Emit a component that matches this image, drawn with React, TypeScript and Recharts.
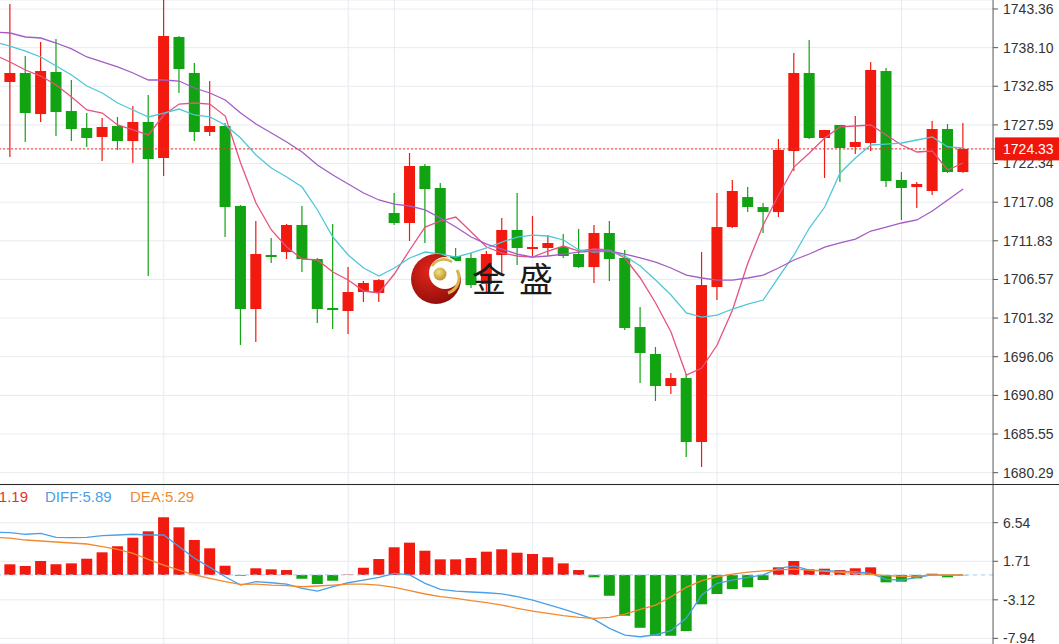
import React from 'react';
import { ComposedChart, Bar, Line, XAxis, YAxis, CartesianGrid, ReferenceLine, Cell } from 'recharts';

// candle index (first one is only half visible at the left edge)
const idx = [-1, 0, 1, 2, 3, 4, 5, 6, 7, 8, 9, 10, 11, 12, 13, 14, 15, 16, 17, 18, 19, 20, 21, 22, 23, 24, 25, 26, 27, 28, 29, 30,
  31, 32, 33, 34, 35, 36, 37, 38, 39, 40, 41, 42, 43, 44, 45, 46, 47, 48, 49, 50, 51, 52, 53, 54, 55, 56, 57, 58, 59, 60, 61, 62];

const open = [1736.01, 1733.43, 1734.65, 1729.07, 1734.79, 1729.48, 1727.17, 1725.95, 1727.44, 1725.40, 1727.99, 1723.09, 1739.55,
  1734.65, 1726.63, 1727.44, 1716.56, 1702.55, 1709.90, 1710.30, 1713.98, 1709.35, 1702.69, 1702.28, 1704.86, 1704.73, 1715.61,
  1714.25, 1722.00, 1719.01, 1709.76, 1709.49, 1705.95, 1709.90, 1713.30, 1710.71, 1710.85, 1710.98, 1710.03, 1708.26, 1712.89,
  1709.49, 1700.10, 1696.43, 1692.08, 1693.16, 1684.46, 1705.54, 1713.70, 1717.78, 1716.42, 1715.74, 1724.04, 1734.65, 1725.81,
  1727.58, 1724.59, 1725.13, 1734.92, 1720.10, 1719.14, 1718.60, 1727.03, 1721.18];

const high = [1736.69, 1744.04, 1736.96, 1738.87, 1739.28, 1733.70, 1729.21, 1728.53, 1728.67, 1730.16, 1731.66, 1744.85, 1739.68,
  1736.01, 1733.56, 1727.85, 1716.70, 1714.52, 1712.21, 1714.11, 1716.56, 1709.49, 1714.11, 1708.26, 1706.36, 1706.63, 1718.33,
  1723.77, 1722.27, 1719.69, 1710.85, 1710.17, 1710.44, 1714.93, 1718.33, 1715.20, 1712.61, 1712.75, 1713.43, 1713.98, 1714.52,
  1710.58, 1702.82, 1697.38, 1693.85, 1693.71, 1710.30, 1718.33, 1720.10, 1719.14, 1716.97, 1725.67, 1737.37, 1739.14, 1726.90,
  1727.58, 1728.80, 1736.15, 1735.33, 1721.18, 1719.82, 1728.12, 1727.71, 1727.85];

const low = [1732.88, 1723.22, 1725.27, 1727.99, 1726.08, 1725.40, 1724.59, 1722.68, 1724.18, 1722.41, 1707.04, 1720.64, 1731.93,
  1725.40, 1726.08, 1712.34, 1697.65, 1698.06, 1708.81, 1709.35, 1707.58, 1700.65, 1699.83, 1699.15, 1703.50, 1703.50, 1713.98,
  1711.80, 1711.53, 1709.35, 1707.17, 1705.41, 1704.86, 1707.45, 1708.53, 1709.76, 1709.76, 1709.49, 1708.13, 1706.09, 1706.36,
  1699.69, 1692.48, 1690.04, 1690.99, 1682.42, 1681.06, 1703.77, 1713.57, 1715.74, 1712.89, 1715.06, 1721.32, 1725.67, 1720.37,
  1719.82, 1723.63, 1724.04, 1719.14, 1714.66, 1716.29, 1718.06, 1721.05, 1721.10];

const close = [1733.70, 1734.65, 1729.21, 1734.92, 1729.35, 1727.03, 1725.81, 1727.31, 1725.40, 1727.99, 1722.95, 1739.68, 1735.19,
  1726.63, 1727.44, 1716.42, 1702.55, 1710.03, 1709.62, 1713.98, 1709.35, 1702.55, 1702.41, 1704.86, 1706.09, 1706.49, 1714.25,
  1722.00, 1718.87, 1709.90, 1709.08, 1705.81, 1710.03, 1713.30, 1710.85, 1710.98, 1711.53, 1709.76, 1708.26, 1712.89, 1709.35,
  1699.97, 1696.57, 1692.08, 1693.16, 1684.46, 1705.81, 1713.70, 1718.60, 1716.42, 1715.74, 1724.18, 1734.65, 1725.81, 1726.90,
  1724.45, 1725.27, 1735.06, 1719.96, 1719.01, 1719.55, 1727.03, 1721.18, 1724.33];

const ma5 = [1737.10, 1736.15, 1735.06, 1734.24, 1733.02, 1731.39, 1729.62, 1729.21, 1727.58, 1726.90, 1726.22, 1728.94, 1730.43,
  1730.57, 1730.43, 1728.80, 1722.41, 1716.97, 1713.30, 1710.98, 1709.35, 1709.22, 1707.58, 1706.49, 1705.00, 1704.73, 1707.31,
  1710.58, 1713.70, 1714.52, 1715.06, 1713.02, 1710.98, 1710.17, 1709.76, 1709.62, 1710.44, 1711.12, 1710.44, 1710.71, 1710.58,
  1709.49, 1706.77, 1703.37, 1699.42, 1693.57, 1694.52, 1697.65, 1702.41, 1708.81, 1713.98, 1718.06, 1721.86, 1723.77, 1725.81,
  1727.31, 1727.44, 1727.58, 1726.22, 1724.86, 1723.91, 1724.04, 1721.46, 1722.41];

const ma10 = [1738.87, 1738.32, 1737.64, 1736.83, 1735.60, 1734.38, 1732.88, 1731.93, 1730.57, 1729.62, 1728.67, 1729.21, 1729.75,
  1728.94, 1728.67, 1727.58, 1725.81, 1723.50, 1721.73, 1720.50, 1719.14, 1716.02, 1712.34, 1709.90, 1708.13, 1707.04, 1708.13,
  1709.49, 1710.30, 1710.03, 1709.62, 1710.17, 1710.85, 1711.66, 1712.34, 1712.61, 1712.48, 1711.94, 1710.58, 1710.30, 1710.44,
  1709.76, 1708.40, 1706.49, 1704.45, 1702.01, 1701.46, 1701.73, 1702.55, 1703.23, 1703.77, 1706.90, 1709.90, 1713.57, 1716.42,
  1721.05, 1723.09, 1724.86, 1724.99, 1725.13, 1725.54, 1725.95, 1724.59, 1724.45];

const ma20 = [1740.23, 1740.09, 1739.55, 1739.41, 1738.73, 1737.92, 1736.83, 1736.15, 1735.47, 1734.65, 1733.70, 1733.70, 1733.56,
  1732.61, 1731.93, 1730.98, 1729.21, 1727.71, 1726.49, 1725.27, 1723.91, 1722.14, 1720.78, 1719.55, 1718.33, 1717.38, 1716.83,
  1716.56, 1716.02, 1714.93, 1713.70, 1712.34, 1711.39, 1710.71, 1710.03, 1709.62, 1709.76, 1710.03, 1710.30, 1710.44, 1710.44,
  1710.03, 1709.49, 1708.94, 1708.13, 1707.17, 1706.77, 1706.49, 1706.49, 1706.77, 1707.17, 1708.13, 1709.22, 1710.03, 1710.98,
  1711.53, 1712.07, 1713.16, 1713.70, 1714.25, 1714.66, 1715.88, 1717.38, 1718.87];

const macd = [1.24, 1.33, 1.12, 1.74, 1.33, 1.45, 2.03, 2.83, 3.58, 4.66, 5.46, 7.22, 5.96, 4.37, 3.33, 1.15, -0.10, 0.83, 0.70,
  0.61, -0.48, -1.14, -0.73, 0.05, 0.90, 1.99, 3.46, 4.04, 3.03, 1.95, 1.95, 2.12, 2.91, 3.21, 2.78, 2.62, 2.21, 1.45, 0.61,
  -0.30, -2.61, -5.11, -6.62, -7.62, -7.62, -7.03, -3.68, -2.39, -1.77, -1.55, -0.64, 0.95, 1.74, 0.70, 0.78, 0.61, 0.83, 0.95,
  -0.93, -0.85, -0.43, 0.15, -0.30, -0.05];

const diff = [5.34, 5.30, 5.09, 5.21, 4.71, 4.66, 4.71, 4.91, 5.00, 5.09, 5.00, 5.00, 3.53, 2.08, 0.95, -0.23, -1.27, -0.85, -0.98,
  -1.14, -1.68, -2.02, -1.48, -0.98, -0.64, -0.30, 0.20, 0.00, -1.05, -1.80, -2.02, -2.14, -2.23, -2.37, -2.73, -3.15, -3.73,
  -4.27, -4.90, -5.57, -6.69, -7.53, -7.74, -7.49, -6.99, -5.40, -2.52, -1.05, -0.64, -0.30, 0.00, 0.83, 1.12, 0.61, 0.53, 0.45,
  0.40, 0.20, -0.55, -0.64, -0.30, 0.00, -0.05, 0.00];

const dea = [4.71, 4.62, 4.37, 4.25, 4.12, 4.00, 3.87, 3.53, 3.21, 2.71, 1.95, 1.24, 0.61, 0.00, -0.43, -0.85, -1.18, -1.14, -1.27,
  -1.35, -1.48, -1.39, -1.27, -1.14, -1.14, -1.27, -1.55, -1.98, -2.39, -2.73, -2.93, -3.23, -3.48, -3.77, -4.19, -4.52, -4.82,
  -5.11, -5.32, -5.44, -5.32, -4.90, -4.31, -3.77, -2.73, -1.55, -0.72, -0.23, 0.11, 0.36, 0.50, 0.62, 0.72, 0.61, 0.45, 0.33,
  0.20, 0.08, -0.10, -0.18, -0.14, 0.00, 0.00, 0.00];

const priceTicks = [1680.29, 1685.55, 1690.80, 1696.06, 1701.32, 1706.57, 1711.83, 1717.08, 1722.34, 1727.59, 1732.85, 1738.10, 1743.36];
const macdTicks = [-7.94, -3.12, 1.71, 6.54];
const sessionBreaks = [10, 22, 25, 34, 46, 58];
const lastPrice = 1724.33;

const RED = '#f2190f';
const GREEN = '#11a311';
const GRID = '#e7ebf0';
const AXIS_FONT = '"Liberation Sans", Arial, sans-serif';

// the plot starts a little left of the page so the first candle is cut in half
const SHIFT = 13.05;
const CHART_W = 1059 + SHIFT;
const AXIS_W = 66;
const PAD_R = 22.3;

const candles = idx.map((i, k) => ({
  idx: i, open: open[k], high: high[k], low: low[k], close: close[k], ma5: ma5[k], ma10: ma10[k], ma20: ma20[k],
}));
const macdRows = idx.map((i, k) => ({ idx: i, macd: macd[k], diff: diff[k], dea: dea[k] }));

const Candle = (props: any) => {
  const { x, y, width, height, payload } = props;
  if (x == null || y == null) return null;
  const top = Math.min(y, y + height);
  const h = Math.abs(height);
  const { open: o, close: c, high: hi, low: lo } = payload;
  const color = c >= o ? RED : GREEN;
  const k = hi - lo !== 0 ? h / (hi - lo) : 0;
  const yOf = (v: number) => top + (hi - v) * k;
  const bTop = yOf(Math.max(o, c));
  const bBot = yOf(Math.min(o, c));
  const cx = x + width / 2;
  return (
    <g>
      <line x1={cx} x2={cx} y1={top} y2={top + h} stroke={color} strokeWidth={1.2} />
      <rect x={x} y={bTop} width={width} height={Math.max(bBot - bTop, 1.5)} fill={color} />
    </g>
  );
};

// price axis labels; the last price gets a red tag drawn over the normal labels
const PriceTick = (props: any) => {
  const { x, y, payload } = props;
  const v = Number(payload.value);
  if (v === lastPrice) {
    return (
      <g>
        <rect x={x - 8} y={y - 11.5} width={72} height={23} fill="#f0160c" />
        <text x={x} y={y} dy="0.355em" textAnchor="start" fill="#fff" fontSize={14} fontFamily={AXIS_FONT}>
          {v.toFixed(2)}
        </text>
      </g>
    );
  }
  return (
    <text x={x} y={y} dy="0.355em" textAnchor="start" fill="#333" fontSize={14} fontFamily={AXIS_FONT}>
      {v.toFixed(2)}
    </text>
  );
};

const axisTick = { fill: '#333', fontSize: 14, fontFamily: AXIS_FONT };

export default function App() {
  return (
    <div style={{ position: 'absolute', left: 0, top: 0, width: 1059, height: 644, overflow: 'hidden', background: '#fff' }}>
      <div style={{ position: 'absolute', left: -SHIFT, top: 0 }}>
        <ComposedChart width={CHART_W} height={484} data={candles} margin={{ top: 0, right: 0, bottom: 0, left: 0 }}>
          <CartesianGrid vertical={false} stroke={GRID} />
          {sessionBreaks.map((b) => (
            <ReferenceLine key={b} x={b} stroke={GRID} zIndex={-1} />
          ))}
          <XAxis dataKey="idx" type="category" hide padding={{ left: 0, right: PAD_R }} />
          <YAxis
            orientation="right"
            width={AXIS_W}
            domain={[1678.75, 1744.58]}
            allowDataOverflow
            ticks={[...priceTicks, lastPrice]}
            interval={0}
            tick={(p: any) => <PriceTick {...p} />}
            tickSize={5}
            tickMargin={5}
            axisLine={{ stroke: '#555' }}
            tickLine={{ stroke: '#555' }}
          />
          <Bar dataKey={(d: any) => [d.low, d.high]} barSize={11} shape={<Candle />} isAnimationActive={false} />
          <Line dataKey="ma5" stroke="#e6527f" strokeWidth={1.3} dot={false} activeDot={false} isAnimationActive={false} />
          <Line dataKey="ma10" stroke="#4fc7d8" strokeWidth={1.3} dot={false} activeDot={false} isAnimationActive={false} />
          <Line dataKey="ma20" stroke="#a45cc6" strokeWidth={1.3} dot={false} activeDot={false} isAnimationActive={false} />
          <ReferenceLine y={lastPrice} stroke="#f0302a" strokeDasharray="2 2" />
        </ComposedChart>
      </div>

      <div style={{ position: 'absolute', left: 0, top: 484, width: 1059, height: 1, background: '#2b2b2b' }} />

      <div style={{ position: 'absolute', left: -SHIFT, top: 485 }}>
        <ComposedChart width={CHART_W} height={159} data={macdRows} margin={{ top: 0, right: 0, bottom: 0, left: 0 }}>
          <CartesianGrid vertical={false} stroke={GRID} />
          {sessionBreaks.map((b) => (
            <ReferenceLine key={b} x={b} stroke={GRID} zIndex={-1} />
          ))}
          <XAxis dataKey="idx" type="category" hide padding={{ left: 0, right: PAD_R }} />
          <YAxis
            orientation="right"
            width={AXIS_W}
            domain={[-8.65, 11.26]}
            allowDataOverflow
            ticks={macdTicks}
            interval={0}
            tickFormatter={(v: number) => v.toFixed(2)}
            tick={axisTick}
            tickSize={5}
            tickMargin={5}
            axisLine={{ stroke: '#555' }}
            tickLine={{ stroke: '#555' }}
          />
          <ReferenceLine y={0} stroke="#9fcdf3" strokeDasharray="4 4" />
          <Bar dataKey="macd" barSize={11} isAnimationActive={false}>
            {macdRows.map((r) => (
              <Cell key={r.idx} fill={r.macd >= 0 ? RED : GREEN} />
            ))}
          </Bar>
          <Line dataKey="diff" stroke="#4a9fe8" strokeWidth={1.3} dot={false} activeDot={false} isAnimationActive={false} />
          <Line dataKey="dea" stroke="#f28a2e" strokeWidth={1.3} dot={false} activeDot={false} isAnimationActive={false} />
        </ComposedChart>
      </div>

      <svg width={1059} height={644} style={{ position: 'absolute', left: 0, top: 0, pointerEvents: 'none' }}>
        <defs>
          <radialGradient id="logoRed" cx="38%" cy="35%" r="75%">
            <stop offset="0%" stopColor="#e2261b" />
            <stop offset="100%" stopColor="#8a0c08" />
          </radialGradient>
          <radialGradient id="logoGold" cx="40%" cy="35%" r="70%">
            <stop offset="0%" stopColor="#f3e08a" />
            <stop offset="100%" stopColor="#b8901e" />
          </radialGradient>
        </defs>
        <circle cx={436} cy={279} r={25} fill="url(#logoRed)" />
        <circle cx={445} cy={273} r={16} fill="#fff" />
        <path d="M432 266 A14 14 0 0 1 452 262" stroke="#d6b54a" strokeWidth={2.5} fill="none" />
        <path d="M457 270 A16 16 0 0 1 448 293" stroke="#d6b54a" strokeWidth={3} fill="none" />
        <circle cx={440} cy={274} r={6.5} fill="url(#logoGold)" />
        <g fontSize={34} fill="#1a1a1a" fontFamily='"Noto Sans CJK SC", sans-serif'>
          <text x={472} y={292}>金</text>
          <text x={519} y={292}>盛</text>
        </g>

        <g fontSize={15} fontFamily={AXIS_FONT}>
          <text x={28} y={502} textAnchor="end" fill="#e8321f">MACD:1.19</text>
          <text x={45} y={502} fill="#4a9fe8">DIFF:5.89</text>
          <text x={130} y={502} fill="#f08a30">DEA:5.29</text>
        </g>
      </svg>
    </div>
  );
}
